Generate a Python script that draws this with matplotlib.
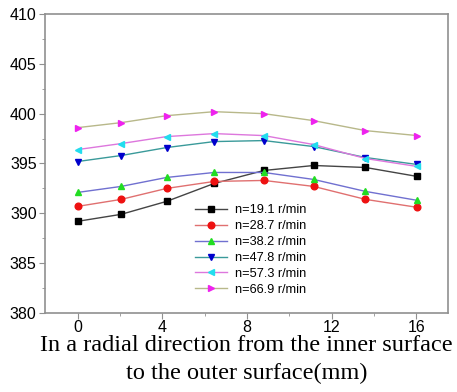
import numpy as np
import matplotlib.pyplot as plt
from matplotlib.ticker import MultipleLocator

# radial position (mm)
x = [0, 2.05, 4.2, 6.45, 8.8, 11.15, 13.6, 16.05]

labels = ['n=19.1 r/min', 'n=28.7 r/min', 'n=38.2 r/min',
          'n=47.8 r/min', 'n=57.3 r/min', 'n=66.9 r/min']

T191 = [389.2, 389.9, 391.2, 393.0, 394.3, 394.8, 394.6, 393.7]
T287 = [390.7, 391.4, 392.5, 393.2, 393.3, 392.7, 391.4, 390.6]
T382 = [392.1, 392.7, 393.6, 394.1, 394.1, 393.4, 392.2, 391.3]
T478 = [395.2, 395.8, 396.6, 397.2, 397.3, 396.7, 395.6, 394.9]
T573 = [396.4, 397.0, 397.7, 398.0, 397.8, 396.9, 395.5, 394.7]
T669 = [398.6, 399.1, 399.8, 400.2, 400.0, 399.3, 398.3, 397.8]

series = [T191, T287, T382, T478, T573, T669]
markers = ['s', 'o', '^', 'v', '<', '>']
mcolors = ['black', '#ee1111', '#22dd22', '#0000cc', '#22ddee', '#ee22ee']
lcolors = ['#444444', '#e07070', '#7070d0', '#3a9a9a', '#dd77dd', '#b8b88a']

fig = plt.figure(figsize=(4.57, 3.92), dpi=100)
ax = fig.add_axes([45/457, 1-313/392, (448-45)/457, (313-14)/392])

for ys, m, mc, lc, lab in zip(series, markers, mcolors, lcolors, labels):
    ax.plot(x, ys, color=lc, lw=1.0, marker=m, ms=4.8,
            mfc=mc, mec=mc, label=lab)

ax.set_xlim(-1.55, 17.5)
ax.set_ylim(380, 410)
ax.xaxis.set_major_locator(MultipleLocator(4))
ax.xaxis.set_minor_locator(MultipleLocator(2))
ax.yaxis.set_major_locator(MultipleLocator(5))
ax.yaxis.set_minor_locator(MultipleLocator(2.5))
for s in ax.spines.values():
    s.set_color('#909090')
    s.set_linewidth(1.2)
ax.tick_params(which='major', direction='out', length=4, color='#909090',
               labelsize=11.5, pad=2)
ax.tick_params(which='minor', direction='out', length=2, color='#909090')
ax.tick_params(axis='x', pad=1)
for t in ax.get_xticklabels() + ax.get_yticklabels():
    t.set_family('Liberation Sans')

ax.set_xlabel('In a radial direction from the inner surface\nto the outer surface(mm)',
              family='Liberation Serif', fontsize=17.5, linespacing=1.45, labelpad=0)

ax.legend(loc='upper left', bbox_to_anchor=(0.36, 0.38), frameon=False,
          prop={'family': 'Liberation Sans', 'size': 9.2},
          handlelength=2.5, handletextpad=0.6,
          labelspacing=0.3, borderaxespad=0)

fig.savefig('out.png', dpi=100)
